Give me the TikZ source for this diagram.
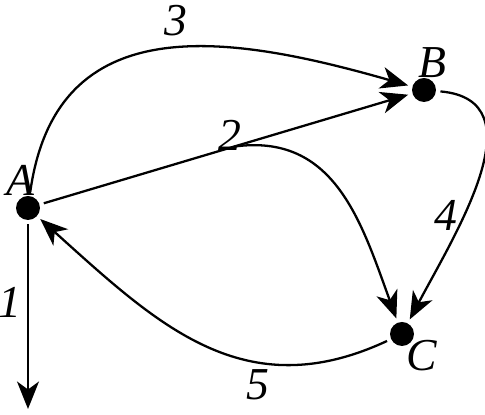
\documentclass[tikz,border=0pt]{standalone}
\usepackage{fontspec}
\setmainfont{Liberation Serif}
\usetikzlibrary{arrows.meta,calc}

\begin{document}
\begin{tikzpicture}[x=0.02cm, y=0.02cm, line width=1.3pt,
  vertex/.style={shape=circle, fill=black, minimum size=0.48cm, inner sep=0pt, outer sep=0.09cm},
  lbl/.style={font=\fontsize{26}{30}\selectfont\itshape, inner sep=0pt},
  arc/.style={-{Stealth[length=0.55cm, width=0.44cm, inset=0.16cm]}}]

\useasboundingbox (0,0) rectangle (485,415);

\node[name=A, vertex] at (28,207) {};
\node[name=B, vertex] at (424,325) {};
\node[name=C, vertex] at (402,81) {};
\coordinate (down) at (28,6);
\coordinate (split) at ($(A)!0.52!(B)$);

\node[name=lA, lbl] at (20,235) {A};
\node[name=lB, lbl] at (432,352) {B};
\node[name=lC, lbl] at (422,59) {C};

% edges
\draw[arc] (A) to[out=82, in=164, looseness=1.22] (B);
\draw[arc] (A) -- (down);
\draw[arc] (A) -- (B);
\draw[arc] (split) to[out=8, in=110, looseness=1.1] (C);
\draw[arc] (B) to[out=-5, in=62, looseness=1.1] (C);
\draw[arc] (C) to[out=205, in=-42, looseness=1.1] (A);

\node[name=l1, lbl] at (10,113) {1};
\node[name=l2, lbl] at (230,280) {2};
\node[name=l3, lbl] at (176,394) {3};
\node[name=l4, lbl] at (446,200) {4};
\node[name=l5, lbl] at (258,30) {5};

\end{tikzpicture}
\end{document}
